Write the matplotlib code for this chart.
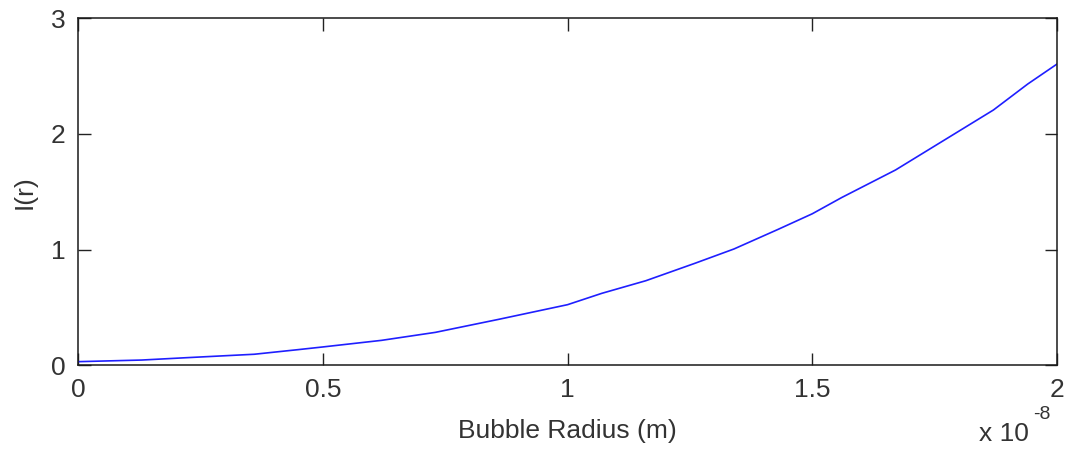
import matplotlib
matplotlib.use("Agg")
import matplotlib.pyplot as plt
from matplotlib.ticker import FuncFormatter

plt.rcParams['font.family'] = ['Liberation Sans', 'DejaVu Sans']

# Bubble radius samples (units of 1e-8 m) and the corresponding I(r)
radius_e8 = [0.0, 0.13, 0.22, 0.36, 0.45, 0.5, 0.62, 0.73, 0.86, 1.0, 1.07,
             1.16, 1.26, 1.34, 1.43, 1.5, 1.56, 1.67, 1.77, 1.87, 1.94, 2.0]
intensity = [0.033, 0.047, 0.067, 0.097, 0.137, 0.16, 0.217, 0.286, 0.399,
             0.525, 0.623, 0.732, 0.882, 1.006, 1.175, 1.31, 1.45, 1.688,
             1.947, 2.206, 2.43, 2.603]
x_ticks_e8 = [0, 0.5, 1, 1.5, 2]
y_ticks = [0, 1, 2, 3]
scale = 1e-8

radius_m = [r * scale for r in radius_e8]

fig = plt.figure(figsize=(10.7, 4.51), dpi=100)
ax = fig.add_axes([0.0729, 0.1896, 0.9150, 0.7704])

ax.plot(radius_m, intensity, color='#1f1fff', linewidth=1.2)

ax.set_xlim(0, 2 * scale)
ax.set_ylim(0, 3)
ax.set_xticks([t * scale for t in x_ticks_e8])
ax.set_yticks(y_ticks)
ax.xaxis.set_major_formatter(FuncFormatter(lambda v, p: f"{v / scale:g}"))

text_color = '#333333'
ax.tick_params(direction='in', length=9, width=1, top=True, right=True,
               labelsize=19, colors='#222222', labelcolor=text_color)
ax.tick_params(axis='x', pad=9)
ax.tick_params(axis='y', pad=9)
for sp in ax.spines.values():
    sp.set_linewidth(1.1)
    sp.set_color('#1a1a1a')

ax.set_xlabel('Bubble Radius (m)', fontsize=19, color=text_color, labelpad=12)
ax.set_ylabel('I(r)', fontsize=19, color=text_color, labelpad=10)

fig.text(0.915, 0.012, 'x 10', fontsize=19, color=text_color,
         ha='left', va='bottom')
fig.text(0.966, 0.062, '-8', fontsize=14, color=text_color,
         ha='left', va='bottom')

fig.savefig('out.png', dpi=100)
